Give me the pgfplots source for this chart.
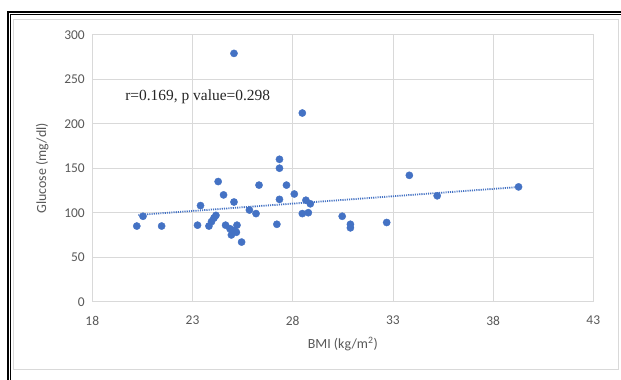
\documentclass[border=0pt]{standalone}
\usepackage{fontspec}
\setmainfont{Carlito}
\newfontfamily\seriffont{Liberation Serif}
\usepackage{pgfplots}
\pgfplotsset{compat=1.18}
\definecolor{dotblue}{HTML}{4472C4}
\definecolor{gridgray}{HTML}{D9D9D9}
\definecolor{txtgray}{HTML}{595959}
\pgfplotstableread{
x y
20.22 85
20.53 96
21.46 85
23.25 86
23.40 108
23.82 85
23.95 90
24.07 94
24.17 97
24.28 135
24.55 120
24.65 86
24.87 82
24.94 75
25.07 80
25.07 112
25.07 279
25.19 78
25.22 86
25.45 67
25.84 103
26.17 99
26.32 131
27.21 87
27.34 160
27.34 150
27.34 115
27.69 131
28.08 121
28.48 99
28.48 212
28.66 114
28.78 100
28.88 110
30.47 96
30.88 87
30.88 83
32.69 89
33.82 142
35.21 119
39.27 129
}\datatable
\pgfplotstableread{
x y
20.3 97.5
39.3 128.9
}\trendtable
\begin{document}
\begin{tikzpicture}
\useasboundingbox (-92.3bp,-78.3bp) rectangle (528.7bp,301.7bp);
\fill[white] (-92.3bp,-78.3bp) rectangle (528.7bp,301.7bp);
\draw[gridgray, line width=0.8bp] (-79.3bp,-67.3bp) rectangle (525.7bp,282.7bp);
\draw[black, line width=1.6bp] (-84.3bp,-78.3bp) -- (-84.3bp,289.7bp) -- (528.7bp,289.7bp);
\draw[black, line width=0.6bp] (-81.8bp,-78.3bp) -- (-81.8bp,287.2bp) -- (528.7bp,287.2bp);
\begin{axis}[
  at={(0,0)}, anchor=origin,
  scale only axis,
  width=501bp, height=267bp,
  xmin=18, xmax=43, ymin=0, ymax=300,
  xtick={18,23,28,33,38,43},
  ytick={0,50,100,150,200,250,300},
  grid=major,
  grid style={gridgray, line width=0.8bp},
  axis line style={gridgray, line width=0.8bp},
  tick style={draw=none},
  ticklabel style={font=\fontsize{13.5}{15}\selectfont, text=txtgray},
  /pgf/number format/assume math mode=true,
  xticklabel style={yshift=-11bp},
  yticklabel style={xshift=-4bp},
  xlabel={BMI (kg/m\textsuperscript{2})},
  ylabel={Glucose (mg/dl)},
  label style={font=\fontsize{14}{16}\selectfont, text=txtgray},
  xlabel style={at={(axis description cs:0.5,-0.16)}, anchor=center},
  ylabel style={at={(axis description cs:-0.0998,0.5)}, anchor=center},
  clip=false,
]
\addplot[only marks, mark=*, mark size=3.6bp, mark options={fill=dotblue, draw=dotblue}] table[x=x,y=y] {\datatable};
\addplot[dotblue, line width=1.8bp, dash pattern=on 1.1bp off 1.1bp] table[x=x,y=y] {\trendtable};
\node[font=\seriffont\fontsize{15.5}{17}\selectfont, text=black!85] at (axis cs:23.26,230) {r=0.169, p value=0.298};
\end{axis}
\end{tikzpicture}
\end{document}
